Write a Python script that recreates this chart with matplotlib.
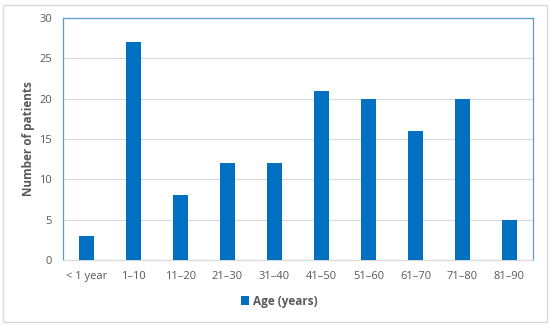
import matplotlib
matplotlib.use("Agg")
import matplotlib.pyplot as plt
from matplotlib.patches import Rectangle

categories = ["< 1 year", "1\u201310", "11\u201320", "21\u201330", "31\u201340",
              "41\u201350", "51\u201360", "61\u201370", "71\u201380", "81\u201390"]
patients = [3, 27, 8, 12, 12, 21, 20, 16, 20, 5]
yticks = [0, 5, 10, 15, 20, 25, 30]

plt.rcParams['font.family'] = ['Open Sans', 'DejaVu Sans']
gray = '#595959'
blue = '#0070C0'

fig = plt.figure(figsize=(5.5, 3.25), dpi=100)
ax = fig.add_axes([63/550, 1 - 260/325, 470/550, 242/325])

x = range(len(categories))
ax.bar(x, patients, width=0.32, color=blue, label="Age (years)", zorder=3)
ax.set_xlim(-0.5, len(categories) - 0.5)
ax.set_ylim(0, 30)
ax.set_yticks(yticks)
ax.set_xticks(list(x))
ax.set_xticklabels(categories)
ax.tick_params(axis='both', length=0, colors=gray, labelsize=8)
ax.tick_params(axis='x', pad=8)
ax.tick_params(axis='y', pad=8)
ax.grid(axis='y', color='#D9D9D9', linewidth=0.8, zorder=0)
for s in ax.spines.values():
    s.set_color('#5B9BD5')
    s.set_linewidth(0.9)
ax.spines['bottom'].set_color('#D9D9D9')
ax.set_ylabel("Number of patients", color=gray, fontsize=8.5, fontweight='bold', labelpad=3)

leg = fig.legend(loc='center', bbox_to_anchor=(0.5 + 4/550, 1 - 301/325), frameon=False,
                 handlelength=0.7, handleheight=0.7, handletextpad=0.3,
                 prop={'size': 8.5, 'weight': 'bold'})
for t in leg.get_texts():
    t.set_color(gray)

fig.patches.append(Rectangle((3/550, 3/325), 544/550, 317/325, transform=fig.transFigure,
                             fill=False, edgecolor='#D9D9D9', linewidth=1))

fig.savefig("out.png", dpi=100)
